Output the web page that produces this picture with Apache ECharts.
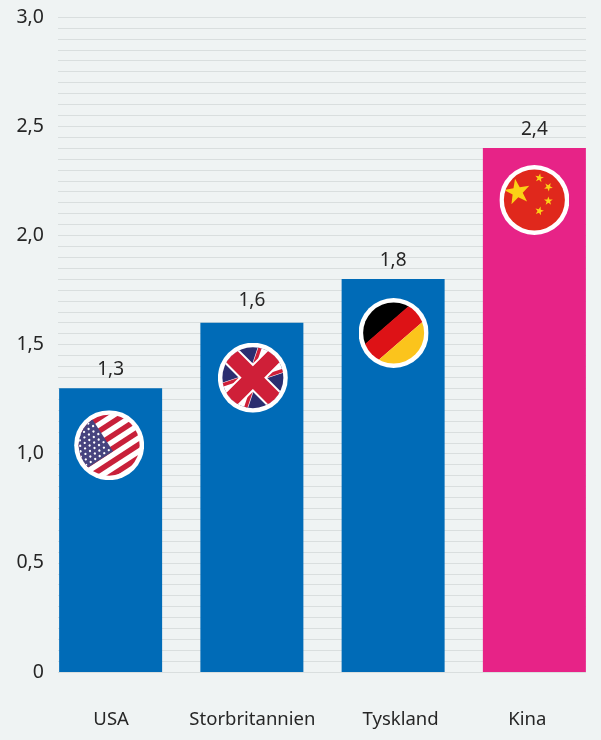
<!DOCTYPE html>
<html><head><meta charset="utf-8">
<style>html,body{margin:0;padding:0;background:#eff3f3}#c{width:601px;height:740px}</style>
<script src="https://cdn.jsdelivr.net/npm/echarts@6/dist/echarts.min.js"></script>
</head><body><div id="c"></div>
<script>
const categories = ['USA', 'Storbritannien', 'Tyskland', 'Kina'];
const values = [1.3, 1.6, 1.8, 2.4];
const yTickLabels = ['0', '0,5', '1,0', '1,5', '2,0', '2,5', '3,0'];

const FONT = '"Noto Sans", sans-serif';
const TEXT = '#262626';

function star(cx, cy, r, rot) {
  let pts = [];
  for (let i = 0; i < 10; i++) {
    const a = (rot - 90 + i * 36) * Math.PI / 180, q = i % 2 ? r * 0.4 : r;
    pts.push((cx + q * Math.cos(a)).toFixed(2) + ',' + (cy + q * Math.sin(a)).toFixed(2));
  }
  return `<polygon points="${pts.join(' ')}" fill="#fbd116"/>`;
}
function usaFlag() {
  let s = '<rect x="-60" y="-60" width="120" height="120" fill="#fff"/>';
  for (let y = -31; y < 40; y += 11) s += `<rect x="-60" y="${y}" width="120" height="5.5" fill="#c8203a"/>`;
  s += '<rect x="-60" y="-60" width="60" height="67.2" fill="#47447f"/>';
  for (let r = 0; r < 10; r++) for (let c = 0; c < 8; c++) {
    const x = -3 - c * 5.4 - (r % 2) * 2.7, y = 4 - r * 4.8;
    s += `<circle cx="${x}" cy="${y}" r="1.15" fill="#fff"/>`;
  }
  return `<g transform="rotate(-33)">${s}</g>`;
}
function ukFlag() {
  const n = '#2b2e70', r = '#cf1f38';
  return `<rect x="-50" y="-50" width="100" height="100" fill="${n}"/>
  <g transform="rotate(-45)">
    <path d="M-70,-35L70,35M-70,35L70,-35" stroke="#fff" stroke-width="10"/>
    <path d="M0,0L70,-35" transform="translate(-1.2,-2.4)" stroke="${r}" stroke-width="3.4"/>
    <path d="M0,0L-70,35" transform="translate(1.2,2.4)" stroke="${r}" stroke-width="3.4"/>
    <path d="M0,0L70,35" transform="translate(-1.2,2.4)" stroke="${r}" stroke-width="3.4"/>
    <path d="M0,0L-70,-35" transform="translate(1.2,-2.4)" stroke="${r}" stroke-width="3.4"/>
    <path d="M0,-60V60M-60,0H60" stroke="#fff" stroke-width="20"/>
    <path d="M0,-60V60M-60,0H60" stroke="${r}" stroke-width="16"/>
  </g>`;
}
function deFlag() {
  return `<g transform="rotate(-41)">
    <rect x="-50" y="-50" width="100" height="40" fill="#000"/>
    <rect x="-50" y="-10.5" width="100" height="21" fill="#dd1216"/>
    <rect x="-50" y="10.5" width="100" height="40" fill="#fbc41c"/>
  </g>`;
}
function cnFlag() {
  return `<rect x="-40" y="-40" width="80" height="80" fill="#e0281c"/>` +
    star(-17, -8, 13.5, -10) + star(5, -22, 4.6, 10) + star(14, -13, 4.6, 30) + star(14, 1, 4.6, 0) + star(5, 11, 4.6, 15);
}
function flagUri(inner) {
  const svg = `<svg xmlns="http://www.w3.org/2000/svg" width="140" height="140" viewBox="-35 -35 70 70">
    <defs><clipPath id="k"><circle r="30.5"/></clipPath></defs>
    <circle r="35" fill="#fff"/><g clip-path="url(#k)">${inner}</g></svg>`;
  return 'image://data:image/svg+xml;charset=utf-8,' + encodeURIComponent(svg);
}
const flags = [usaFlag(), ukFlag(), deFlag(), cnFlag()].map(flagUri);
const flagOffsets = [[-1.5, 57], [1, 55], [0.5, 54], [0, 52]];
const barColors = ['#006bb7', '#006bb7', '#006bb7', '#e72387'];
const labelDistances = [9, 13, 9, 9];
const categoryPadding = [[0, 0, 0, 1], [0, 0, 0, 1], [0, 0, 0, 15], [0, 14, 0, 0]];

const chart = echarts.init(document.getElementById('c'), null, {renderer: 'canvas'});
chart.setOption({
  animation: false,
  backgroundColor: '#eff3f3',
  grid: [
    {left: 58, top: 17, width: 528, height: 655, outerBoundsMode: 'none', containLabel: false},
    {left: 40, top: 17, width: 565, height: 655, outerBoundsMode: 'none', containLabel: false}
  ],
  xAxis: [
    {type: 'category', gridIndex: 0, data: categories, show: false},
    {type: 'category', gridIndex: 1,
      data: categories.map((c, i) => ({value: c, textStyle: {padding: categoryPadding[i]}})),
      axisLine: {show: false}, axisTick: {show: false},
      axisLabel: {margin: 38, fontFamily: FONT, fontSize: 18.5, color: TEXT, interval: 0}}
  ],
  yAxis: [
    {type: 'value', gridIndex: 0, min: 0, max: 3, interval: 0.5,
      axisLine: {show: false}, axisTick: {show: false},
      axisLabel: {margin: 14, fontFamily: FONT, fontSize: 19.5, color: TEXT, padding: [2, 0, 0, 0],
        formatter: (v) => yTickLabels[Math.round(v * 2)]},
      splitLine: {show: true, lineStyle: {color: '#d9dede', width: 1}},
      minorTick: {show: false, splitNumber: 10},
      minorSplitLine: {show: true, lineStyle: {color: '#d9dede', width: 1}}},
    {type: 'value', gridIndex: 1, min: 0, max: 3, interval: 0.5, show: false, splitLine: {show: false}}
  ],
  series: [
    {type: 'bar', xAxisIndex: 1, yAxisIndex: 1, barWidth: 103,
      data: values.map((v, i) => ({value: v, itemStyle: {color: barColors[i]},
        label: {distance: labelDistances[i]}})),
      label: {show: true, position: 'top', fontFamily: FONT, fontSize: 19, color: TEXT,
        formatter: (p) => String(p.value).replace('.', ',')}},
    {type: 'scatter', xAxisIndex: 1, yAxisIndex: 1, z: 5, silent: true,
      itemStyle: {opacity: 1},
      data: values.map((v, i) => ({value: [i, v], symbol: flags[i], symbolSize: 70, symbolOffset: flagOffsets[i]}))}
  ]
});
</script></body></html>
